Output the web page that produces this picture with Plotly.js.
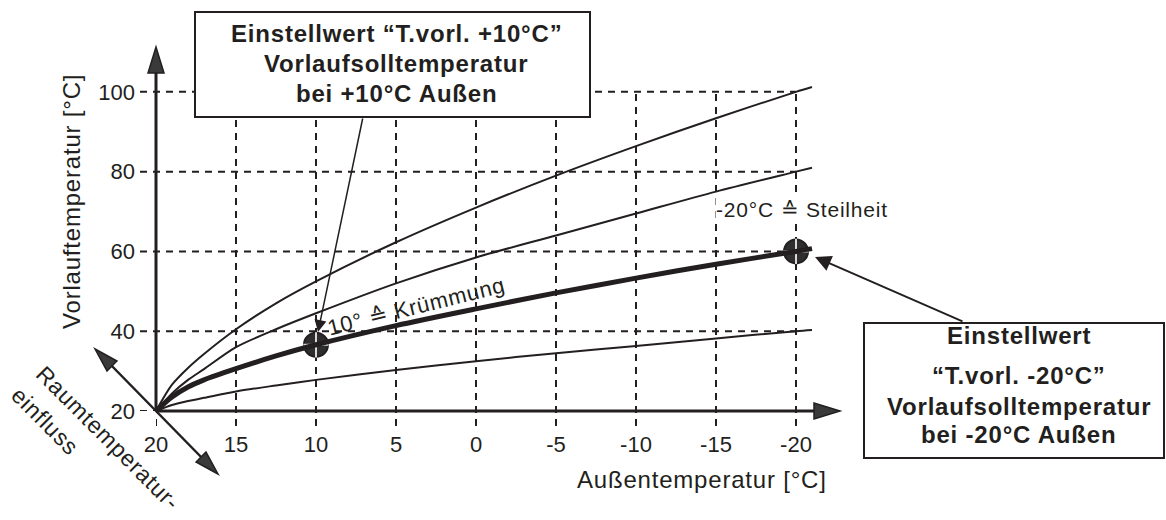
<!DOCTYPE html>
<html>
<head>
<meta charset="utf-8">
<script src="https://cdn.plot.ly/plotly-3.0.1.min.js"></script>
<style>
html,body{margin:0;padding:0;background:#fff;}
#chart{width:1166px;height:520px;}
.annotation-text{letter-spacing:0.8px;}
</style>
</head>
<body>
<div id="chart"></div>
<script>
// ---- data ----
const outsideTemp = [20, 19, 18, 17, 15, 12.5, 10, 5, 0, -5, -10, -15, -20, -21];
const curveSteep  = [20, 26.6, 30.8, 34.3, 40.5, 47.0, 52.5, 62.3, 71.0, 79.0, 86.4, 93.4, 100.0, 101.2];
const curveUpper  = [20, 24.4, 27.8, 30.5, 36.0, 40.5, 44.5, 52.0, 58.5, 64.0, 69.5, 75.0, 80.0, 81.0];
const curveSet    = [20, 23.5, 26.0, 27.8, 30.6, 33.8, 36.6, 41.4, 45.6, 49.6, 53.3, 56.8, 60.0, 60.7];
const curveFlat   = [20, 21.5, 22.5, 23.3, 24.9, 26.4, 27.8, 30.3, 32.5, 34.5, 36.3, 38.2, 40.0, 40.3];
const setPointX   = [10, -20];
const setPointY   = [36.6, 60];
const xTickVals   = [20, 15, 10, 5, 0, -5, -10, -15, -20];
const xTickText   = ['20', '15', '10', '5', '0', '-5', '-10', '-15', '-20'];
const yTickVals   = [20, 40, 60, 80, 100];
const yTickText   = ['20', '40', '60', '80', '100'];

// ---- layout geometry ----
const FW = 1166, FH = 520;
const ML = 156, MR = 322, MT = 44, MB = 109;
const PW = FW - ML - MR, PH = FH - MT - MB;
const xRange = [20, -23], yRange = [20, 112];
const INK = '#231f20';
const FONT = 'Liberation Sans, Arial, Helvetica, sans-serif';
const px = x => (x - ML) / PW;
const py = y => (FH - MB - y) / PH;
const yFrac = v => (v - yRange[0]) / (yRange[1] - yRange[0]);
const xFrac = v => (v - xRange[0]) / (xRange[1] - xRange[0]);

const shapes = [];
// dashed grid (vertical)
xTickVals.forEach(v => {
  shapes.push({type: 'line', layer: 'below', xref: 'x', yref: 'paper',
    x0: v, x1: v, y0: -15 / PH, y1: v === 20 ? 0 : yFrac(100),
    line: {color: INK, width: 2, dash: '7px,6px'}});
});
// dashed grid (horizontal)
yTickVals.forEach(v => {
  shapes.push({type: 'line', layer: 'below', xref: 'paper', yref: 'y',
    x0: -16 / PW, x1: v === 20 ? 0 : xFrac(-20), y0: v, y1: v,
    line: {color: INK, width: 2, dash: '7px,6px'}});
});

function arrowHead(tx, ty, angDeg, len, hw) {
  const a = angDeg * Math.PI / 180, c = Math.cos(a), s = Math.sin(a);
  const bx = -len * c, by = -len * s;
  const nx = -s * hw, ny = c * hw;
  const p = `M0,0L${(bx + nx).toFixed(2)},${(by + ny).toFixed(2)}L${(bx - nx).toFixed(2)},${(by - ny).toFixed(2)}Z`;
  return {type: 'path', layer: 'above', xref: 'paper', yref: 'paper',
    xsizemode: 'pixel', ysizemode: 'pixel', xanchor: px(tx), yanchor: py(ty),
    path: p, fillcolor: '#3a3a3a', line: {color: INK, width: 1.5}};
}
function seg(x0, y0, x1, y1, w) {
  return {type: 'line', layer: 'above', xref: 'paper', yref: 'paper',
    x0: px(x0), y0: py(y0), x1: px(x1), y1: py(y1), line: {color: INK, width: w}};
}
// axes with arrows
shapes.push(seg(156, 411, 156, 66, 3));
shapes.push(arrowHead(156, 47, 90, 26, 8));
shapes.push(seg(156, 411, 822, 411, 3));
shapes.push(arrowHead(840, 411, 0, 26, 8));
// room temperature influence double arrow
shapes.push(seg(108, 362, 205, 461, 2.5));
shapes.push(arrowHead(95, 349, 135, 24, 7));
shapes.push(arrowHead(218, 474, -45, 24, 7));
// boxes
shapes.push({type: 'rect', layer: 'above', xref: 'paper', yref: 'paper',
  x0: px(195), x1: px(590), y0: py(12), y1: py(117), fillcolor: '#fff', line: {color: INK, width: 2}});
shapes.push({type: 'rect', layer: 'above', xref: 'paper', yref: 'paper',
  x0: px(864), x1: px(1164), y0: py(323), y1: py(458), fillcolor: '#fff', line: {color: INK, width: 2}});

function label(text, x, y, size, opts) {
  return Object.assign({xref: 'paper', yref: 'paper', x: px(x), y: py(y),
    xanchor: 'center', yanchor: 'middle', showarrow: false, text: text,
    font: {family: FONT, size: size, color: INK}}, opts || {});
}
function pointer(hx, hy, tx, ty, w) {
  return {xref: 'paper', yref: 'paper', x: px(hx), y: py(hy), ax: tx - hx, ay: ty - hy,
    axref: 'pixel', ayref: 'pixel', text: '', showarrow: true,
    arrowhead: 2, arrowsize: 1.6, arrowwidth: w, arrowcolor: INK, standoff: 0, startstandoff: 0};
}

const annotations = [
  label('<b>Einstellwert “T.vorl. +10°C”</b>', 396, 33.5, 24),
  label('<b>Vorlaufsolltemperatur</b>', 396, 63.5, 24),
  label('<b>bei +10°C Außen</b>', 396, 93.5, 24),
  label('<b>Einstellwert</b>', 1019, 335, 24),
  label('<b>“T.vorl. -20°C”</b>', 1019, 375, 24),
  label('<b>Vorlaufsolltemperatur</b>', 1019, 406, 24),
  label('<b>bei -20°C Außen</b>', 1019, 434.5, 24),
  label('10° ≙ Krümmung', 416, 306, 22, {textangle: -14}),
  label('-20°C ≙ Steilheit', 802, 209, 21, {bgcolor: '#fff', borderpad: 0}),
  label('Raumtemperatur-', 108, 438, 23, {textangle: 45}),
  label('einfluss', 45, 421, 23, {textangle: 45}),
  label('Außentemperatur [°C]', 702, 479, 24),
  label('Vorlauftemperatur [°C]', 71, 202, 24, {textangle: -90}),
  pointer(318, 332, 363, 117, 1.5),
  pointer(815, 257, 964, 322, 2)
];

const lineStyle = w => ({color: INK, width: w, shape: 'spline', smoothing: 0.8});
const traces = [
  {x: setPointX, y: setPointY, type: 'scatter', mode: 'markers', hoverinfo: 'skip',
   marker: {symbol: 'circle', size: 24, color: '#2e2e2e', line: {color: INK, width: 2}}},
  {x: setPointX, y: setPointY, type: 'scatter', mode: 'markers', hoverinfo: 'skip',
   marker: {symbol: 'cross-thin', size: 18, line: {color: '#d8d8d8', width: 2}}},
  {x: outsideTemp, y: curveFlat, type: 'scatter', mode: 'lines', line: lineStyle(2)},
  {x: outsideTemp, y: curveSet, type: 'scatter', mode: 'lines', line: lineStyle(5)},
  {x: outsideTemp, y: curveUpper, type: 'scatter', mode: 'lines', line: lineStyle(2)},
  {x: outsideTemp, y: curveSteep, type: 'scatter', mode: 'lines', line: lineStyle(2)}
];

const layout = {
  width: FW, height: FH,
  margin: {l: ML, r: MR, t: MT, b: MB, pad: 0},
  paper_bgcolor: '#fff', plot_bgcolor: '#fff',
  showlegend: false,
  font: {family: FONT, color: INK},
  xaxis: {range: xRange, showgrid: false, zeroline: false, showline: false,
    tickmode: 'array', tickvals: xTickVals, ticktext: xTickText, ticks: '',
    tickfont: {family: FONT, size: 22, color: INK}, ticklabelstandoff: 18, fixedrange: true},
  yaxis: {range: yRange, showgrid: false, zeroline: false, showline: false,
    tickmode: 'array', tickvals: yTickVals, ticktext: yTickText, ticks: '',
    tickfont: {family: FONT, size: 22, color: INK}, ticklabelstandoff: 20, fixedrange: true},
  shapes: shapes,
  annotations: annotations
};

Plotly.newPlot('chart', traces, layout, {displayModeBar: false, staticPlot: true});
</script>
</body>
</html>
